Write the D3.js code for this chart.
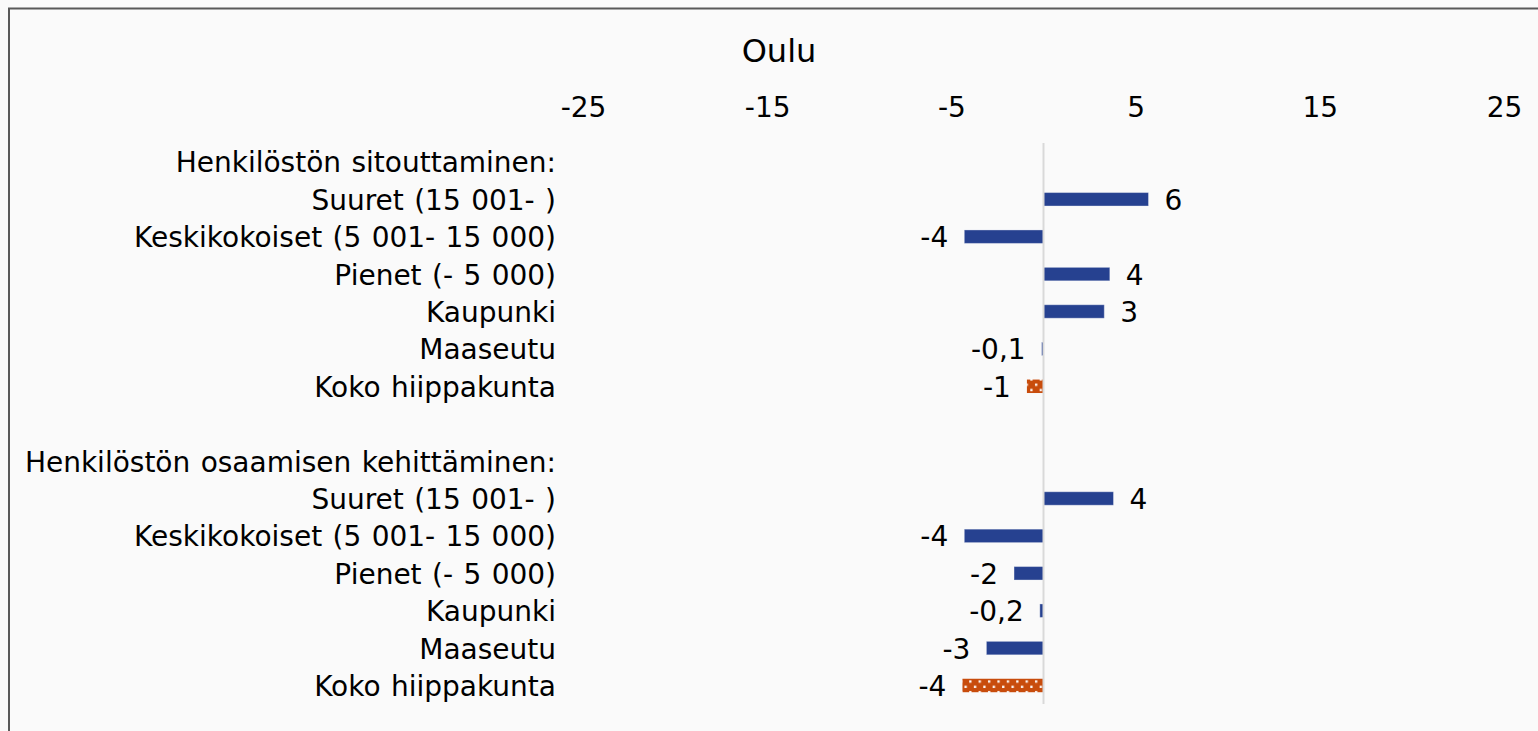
<!DOCTYPE html>
<html lang="fi">
    <head>
        <meta charset="UTF-8">
        <title>Oulu</title>
        <style>
            body { margin: 0; background: #fafafa; font-family: 'DejaVu Sans', Verdana, sans-serif; }
            svg { display: block; }
        </style>
    </head>
    <body>
        <div id="chart"></div>
        <script src="https://cdn.jsdelivr.net/npm/d3@7/dist/d3.min.js"></script>
        <script>
            // rows of the chart, top to bottom (headers and the blank row have no bar)
            var rowLabels = [
                "Henkilöstön sitouttaminen:",
                "Suuret (15 001- )",
                "Keskikokoiset (5 001- 15 000)",
                "Pienet (- 5 000)",
                "Kaupunki",
                "Maaseutu",
                "Koko hiippakunta",
                "",
                "Henkilöstön osaamisen kehittäminen:",
                "Suuret (15 001- )",
                "Keskikokoiset (5 001- 15 000)",
                "Pienet (- 5 000)",
                "Kaupunki",
                "Maaseutu",
                "Koko hiippakunta"
            ];
            var values      = [null, 5.7, -4.3, 3.6, 3.3, -0.1, -0.9, null, null, 3.8, -4.3, -1.6, -0.2, -3.1, -4.4];
            var valueLabels = ["", "6", "-4", "4", "3", "-0,1", "-1", "", "", "4", "-4", "-2", "-0,2", "-3", "-4"];
            var totalRow = "Koko hiippakunta";
            var tickValues = [-25, -15, -5, 5, 15, 25];
            var title = "Oulu";

            var w = 1538, h = 731;
            var fs = 28;
            var barColor = '#264190';
            var totalColor = '#c84c0c';

            const svg = d3.select('#chart').append('svg').attr('width', w).attr('height', h);

            // dotted fill for the whole-diocese bars
            var pat = svg.append('defs').append('pattern')
                .attr('id', 'dots').attr('patternUnits', 'userSpaceOnUse')
                .attr('width', 9.4).attr('height', 10.6);
            pat.append('rect').attr('width', 9.4).attr('height', 10.6).attr('fill', totalColor);
            pat.append('rect').attr('x', 1).attr('y', 2).attr('width', 2.3).attr('height', 2.3).attr('fill', '#fff');
            pat.append('rect').attr('x', 5.7).attr('y', 7.3).attr('width', 2.3).attr('height', 2.3).attr('fill', '#fff');

            // chart border (only top and left are inside the picture)
            svg.append('rect').attr('x', 9).attr('y', 8.5).attr('width', w + 20).attr('height', h + 20)
                .attr('fill', '#fafafa').attr('stroke', '#595959').attr('stroke-width', 2);

            var x = d3.scaleLinear().domain([-25, 25]).range([583, 1504]);
            var y = d3.scaleBand().domain(d3.range(rowLabels.length)).range([143, 704]);

            svg.append('text').attr('x', 779).attr('y', 62).attr('text-anchor', 'middle')
                .style('font-size', '32px').attr('fill', '#000').text(title);

            var xAxis = svg.append('g').attr('transform', 'translate(0,117)')
                .call(d3.axisTop(x).tickValues(tickValues).tickFormat(d => String(d)).tickSize(0).tickPadding(0));
            xAxis.select('.domain').remove();
            xAxis.selectAll('text').style('font-size', fs + 'px').style('font-family', 'DejaVu Sans').attr('fill', '#000');

            var yAxis = svg.append('g').attr('transform', 'translate(556,0)')
                .call(d3.axisLeft(y).tickFormat(i => rowLabels[i]).tickSize(0).tickPadding(0));
            yAxis.select('.domain').remove();
            yAxis.selectAll('text').style('font-size', fs + 'px').style('font-family', 'DejaVu Sans')
                .style('word-spacing', '1.5px')
                .attr('fill', '#000').attr('dy', '0.38em');

            var rows = d3.range(rowLabels.length).filter(i => values[i] !== null);

            svg.append('g').selectAll('rect').data(rows).join('rect')
                .attr('x', i => x(Math.min(0, values[i])))
                .attr('width', i => Math.abs(x(values[i]) - x(0)))
                .attr('y', i => y(i) + y.bandwidth() * 0.325)
                .attr('height', y.bandwidth() * 0.36)
                .attr('fill', i => rowLabels[i] === totalRow ? 'url(#dots)' : barColor)
                .attr('stroke', i => rowLabels[i] === totalRow ? 'none' : 'rgba(255,255,255,0.35)')
                .attr('stroke-width', 1);

            // zero line
            svg.append('line').attr('x1', x(0)).attr('x2', x(0)).attr('y1', y.range()[0]).attr('y2', y.range()[1])
                .attr('stroke', '#d9d9d9').attr('stroke-width', 2);

            svg.append('g').selectAll('text').data(rows).join('text')
                .attr('x', i => values[i] >= 0 ? x(values[i]) + 16 : x(values[i]) - 16)
                .attr('y', i => y(i) + y.bandwidth() / 2)
                .attr('dy', '0.38em')
                .attr('text-anchor', i => values[i] >= 0 ? 'start' : 'end')
                .style('font-size', fs + 'px').attr('fill', '#000')
                .text(i => valueLabels[i]);
        </script>
    </body>
</html>
